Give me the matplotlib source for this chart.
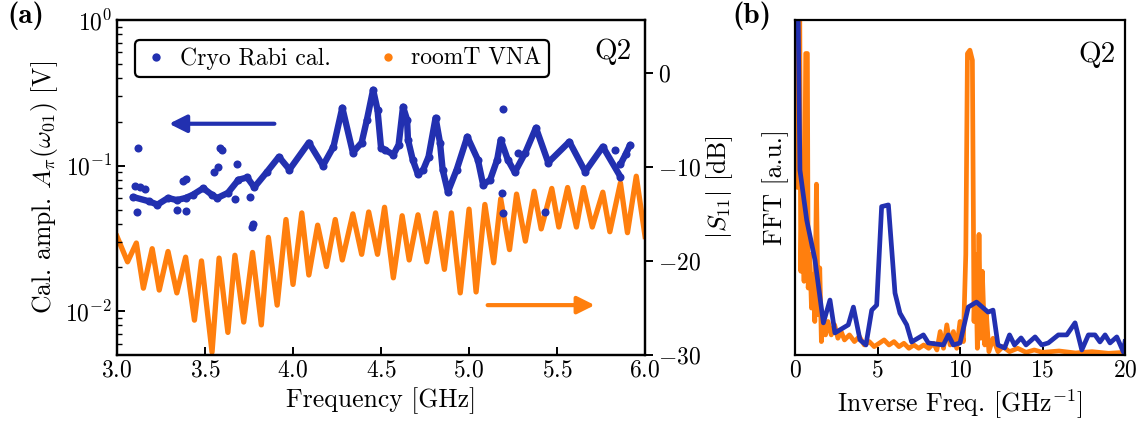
import numpy as np
import matplotlib
matplotlib.use("Agg")
import matplotlib.pyplot as plt
from matplotlib.lines import Line2D

plt.rcParams.update({
    "font.family": "cmr10",
    "mathtext.fontset": "cm",
    "axes.formatter.use_mathtext": True,
    "axes.linewidth": 1.6,
})

BLUE = "#2230b0"
ORANGE = "#ff7f0e"

# (a) cryo Rabi calibration amplitude [V] -- main trace
rabi_f = [3.09, 3.18, 3.23, 3.29, 3.34, 3.39, 3.43, 3.49, 3.54, 3.57, 3.63, 3.69,
          3.74, 3.78, 3.85, 3.92, 3.98, 4.09, 4.17, 4.23, 4.28, 4.34, 4.39, 4.42,
          4.455, 4.48, 4.50, 4.52, 4.57, 4.60, 4.625, 4.648, 4.653, 4.68, 4.71,
          4.74, 4.77, 4.81, 4.835, 4.85, 4.88, 4.93, 4.99, 5.05, 5.08, 5.12, 5.16,
          5.18, 5.22, 5.26, 5.32, 5.38, 5.45, 5.57, 5.66, 5.76, 5.86]
rabi_a = [0.061, 0.057, 0.054, 0.060, 0.058, 0.060, 0.063, 0.070, 0.063, 0.060,
          0.065, 0.080, 0.083, 0.071, 0.090, 0.115, 0.094, 0.144, 0.100, 0.135,
          0.250, 0.123, 0.144, 0.207, 0.332, 0.242, 0.133, 0.129, 0.119, 0.139,
          0.254, 0.207, 0.151, 0.110, 0.087, 0.094, 0.115, 0.213, 0.144, 0.094,
          0.066, 0.094, 0.158, 0.110, 0.074, 0.080, 0.110, 0.151, 0.110, 0.090,
          0.123, 0.182, 0.105, 0.146, 0.091, 0.135, 0.084]
# short last segment after the gap
rabi_end_f = [5.86, 5.89, 5.915]
rabi_end_a = [0.102, 0.120, 0.139]
# scattered outlier points
out_f = [3.119, 3.114, 3.102, 3.131, 3.159, 3.341, 3.392, 3.392, 3.375, 3.551,
         3.574, 3.585, 3.597, 3.682, 3.670, 3.756, 3.767, 3.773, 5.193, 5.188,
         5.193, 5.278, 5.432, 5.830]
out_a = [0.133, 0.048, 0.072, 0.071, 0.069, 0.050, 0.049, 0.081, 0.079, 0.090,
         0.098, 0.133, 0.129, 0.103, 0.059, 0.061, 0.038, 0.040, 0.245, 0.065,
         0.047, 0.123, 0.048, 0.129]

# (a) room temperature VNA |S11| [dB]
vna_f = [3.00, 3.06, 3.11, 3.15, 3.20, 3.24, 3.29, 3.34, 3.39, 3.44, 3.48, 3.54,
         3.58, 3.63, 3.67, 3.72, 3.77, 3.82, 3.86, 3.91, 3.96, 4.00, 4.05, 4.09,
         4.14, 4.19, 4.24, 4.28, 4.34, 4.39, 4.43, 4.48, 4.52, 4.57, 4.62, 4.66,
         4.71, 4.76, 4.81, 4.86, 4.90, 4.95, 5.00, 5.04, 5.09, 5.14, 5.18, 5.23,
         5.27, 5.32, 5.37, 5.41, 5.47, 5.51, 5.56, 5.61, 5.65, 5.70, 5.76, 5.80,
         5.86, 5.90, 5.95, 6.00]
vna_db = [-17.4, -20.1, -18.1, -22.9, -18.7, -23.1, -19.0, -23.4, -19.6, -26.3,
          -20.0, -29.7, -19.7, -27.6, -19.4, -26.5, -19.1, -26.8, -17.5, -24.7,
          -15.6, -22.5, -14.9, -21.5, -16.2, -20.6, -15.6, -19.9, -15.0, -19.3,
          -14.8, -19.3, -14.3, -21.8, -15.2, -19.9, -15.1, -20.1, -14.9, -20.9,
          -14.9, -23.4, -14.5, -23.3, -14.0, -20.2, -13.4, -18.8, -12.9, -17.9,
          -12.6, -16.6, -12.3, -16.4, -12.2, -16.4, -12.2, -16.4, -12.7, -16.9,
          -11.7, -17.0, -11.0, -17.4]

# (b) FFT of both traces [a.u.]
fft_rabi_x = [0.05, 0.30, 0.71, 1.21, 1.72, 2.12, 2.42, 3.23, 3.54, 3.94, 4.30,
              4.65, 4.95, 5.25, 5.66, 6.06, 6.36, 6.77, 7.07, 7.78, 8.08, 8.99,
              9.29, 9.60, 10.0, 10.5, 11.0, 11.7, 12.0, 12.3, 12.7, 13.0, 13.3,
              13.7, 14.0, 14.55, 14.95, 15.35, 15.96, 16.47, 16.97, 17.38, 17.78,
              18.18, 18.48, 18.79, 19.09, 19.5, 19.9, 20.0]
fft_rabi_y = [1.6, 0.552, 0.403, 0.284, 0.096, 0.164, 0.066, 0.090, 0.143, 0.045,
              0.030, 0.134, 0.149, 0.443, 0.448, 0.185, 0.125, 0.090, 0.039, 0.060,
              0.036, 0.030, 0.060, 0.030, 0.036, 0.143, 0.158, 0.128, 0.134, 0.030,
              0.021, 0.060, 0.030, 0.051, 0.030, 0.054, 0.030, 0.036, 0.060, 0.060,
              0.096, 0.015, 0.060, 0.060, 0.039, 0.060, 0.036, 0.054, 0.009, 0.04]
fft_vna_x = [0.0, 0.15, 0.25, 0.35, 0.45, 0.55, 0.65, 0.75, 0.8, 0.9, 1.0, 1.1,
             1.2, 1.3, 1.4, 1.5, 1.6, 1.7, 1.85, 2.0, 2.2, 2.4, 2.6, 2.8, 3.0,
             3.3, 3.6, 3.9, 4.2, 4.5, 4.8, 5.1, 5.4, 5.7, 6.0, 6.3, 6.6, 6.9,
             7.2, 7.5, 7.8, 8.1, 8.4, 8.6, 8.8, 9.0, 9.2, 9.4, 9.6, 9.8, 10.0,
             10.2, 10.35, 10.45, 10.6, 10.75, 10.85, 10.95, 11.05, 11.15, 11.25,
             11.35, 11.5, 11.6, 11.75, 12.0, 12.3, 12.6, 13.0, 13.5, 14.0, 14.5,
             15.0, 16.0, 17.0, 18.0, 19.0, 20.0]
fft_vna_y = [1.5, 0.5, 1.5, 0.25, 0.6, 0.22, 0.9, 0.9, 0.2, 0.3, 0.14, 0.24,
             0.1, 0.51, 0.12, 0.26, 0.04, 0.12, 0.06, 0.1, 0.06, 0.09, 0.05,
             0.07, 0.045, 0.06, 0.04, 0.055, 0.03, 0.04, 0.025, 0.035, 0.045,
             0.03, 0.04, 0.025, 0.035, 0.02, 0.03, 0.02, 0.03, 0.02, 0.035,
             0.015, 0.07, 0.02, 0.09, 0.03, 0.07, 0.02, 0.1, 0.04, 0.3, 0.9,
             0.91, 0.88, 0.1, 0.3, 0.02, 0.36, 0.05, 0.25, 0.03, 0.12, 0.01,
             0.05, 0.01, 0.025, 0.01, 0.02, 0.008, 0.015, 0.008, 0.012, 0.006,
             0.01, 0.005, 0.008]

fig = plt.figure(figsize=(11.48, 4.25), dpi=100)
ax = fig.add_axes([0.1019, 0.1647, 0.46, 0.7882])
axr = ax.twinx()
ax.set_zorder(axr.get_zorder() + 1)
ax.patch.set_visible(False)

axr.plot(vna_f, vna_db, color=ORANGE, lw=3.8, solid_joinstyle="round")
ax.plot(rabi_f, rabi_a, "-", color=BLUE, lw=4.6, solid_capstyle="round",
        solid_joinstyle="round")
ax.plot(rabi_end_f, rabi_end_a, "-", color=BLUE, lw=4.6, solid_capstyle="round")
ax.plot(rabi_f + rabi_end_f + out_f, rabi_a + rabi_end_a + out_a, "o",
        color=BLUE, ms=5.8, mew=0)

ax.set_yscale("log")
ax.set_xlim(3, 6)
ax.set_ylim(10 ** -2.3, 1)
axr.set_ylim(-30, 5.6)
axr.set_yticks([0, -10, -20, -30])
ax.set_xticks([3.0, 3.5, 4.0, 4.5, 5.0, 5.5, 6.0])
ax.tick_params(axis="both", which="both", direction="in", labelsize=17)
ax.tick_params(which="major", length=6, width=1.4)
ax.tick_params(which="minor", length=3.5, width=1.0)
axr.tick_params(axis="y", direction="out", labelsize=17, length=6, width=1.4)
ax.set_xlabel("Frequency [GHz]", fontsize=18.5)
ax.set_ylabel(r"Cal. ampl. $A_\pi(\omega_{01})$ [V]", fontsize=18.5)
axr.set_ylabel(r"$|S_{11}|$ [dB]", fontsize=18.5, labelpad=2)

ax.annotate("", xy=(3.28, 0.194), xytext=(3.91, 0.194),
            arrowprops=dict(arrowstyle="-|>", lw=3, color=BLUE, mutation_scale=26))
axr.annotate("", xy=(5.73, -24.7), xytext=(5.09, -24.7),
             arrowprops=dict(arrowstyle="-|>", lw=3, color=ORANGE, mutation_scale=26))

handles = [Line2D([], [], ls="", marker="o", ms=6, color=BLUE, mew=0),
           Line2D([], [], ls="", marker="o", ms=6, color=ORANGE, mew=0)]
leg = ax.legend(handles, ["Cryo Rabi cal.", "roomT VNA"], ncol=2, loc="upper left",
                bbox_to_anchor=(0.012, 0.975), fontsize=17, frameon=True,
                fancybox=True, framealpha=1, edgecolor="black",
                columnspacing=1.8, handletextpad=0.4, borderpad=0.3,
                handlelength=1.2)
leg.get_frame().set_linewidth(1.6)
ax.text(0.975, 0.905, "Q2", transform=ax.transAxes, ha="right", va="center",
        fontsize=21)

# panel (b)
bx = fig.add_axes([0.6925, 0.1647, 0.2875, 0.7882])
bx.plot(fft_vna_x, fft_vna_y, color=ORANGE, lw=3.4)
bx.plot(fft_rabi_x, fft_rabi_y, color=BLUE, lw=3.4)
bx.set_xlim(0, 20)
bx.set_ylim(0, 1)
bx.set_yticks([])
bx.set_xticks([0, 5, 10, 15, 20])
bx.tick_params(axis="x", direction="in", labelsize=17, length=6, width=1.4)
bx.set_xlabel(r"Inverse Freq. [GHz$^{-1}$]", fontsize=18.5)
bx.set_ylabel("FFT [a.u.]", fontsize=18.5)
bx.text(0.97, 0.895, "Q2", transform=bx.transAxes, ha="right", va="center",
        fontsize=21)

fig.text(0.006, 0.962, "(a)", fontsize=21, family="cmb10", va="center")
fig.text(0.638, 0.962, "(b)", fontsize=21, family="cmb10", va="center")

fig.savefig("out.png", dpi=100)
